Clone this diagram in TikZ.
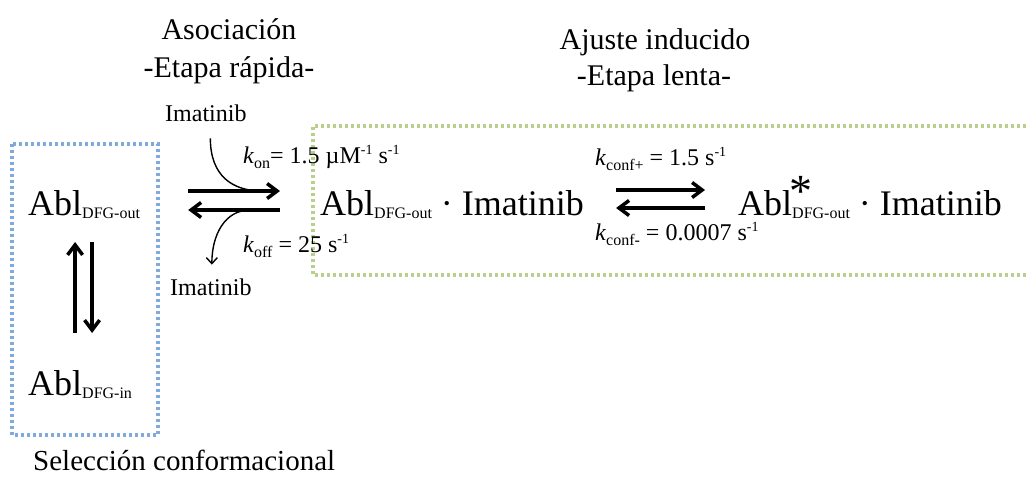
\documentclass[tikz,border=0pt]{standalone}
\usepackage{fontspec}
\setmainfont{Liberation Serif}
\usetikzlibrary{arrows.meta}
\definecolor{selblue}{RGB}{128,170,222}
\definecolor{ajgreen}{RGB}{185,207,140}
\newcommand{\dsub}[1]{\raisebox{-3pt}{\fontsize{16}{16}\selectfont #1}}
\newcommand{\ksub}[1]{\raisebox{-5pt}{\fontsize{16}{16}\selectfont #1}}
\newcommand{\ksup}[1]{\raisebox{9pt}{\fontsize{14}{14}\selectfont #1}}
\newcommand{\bigstar}{\rlap{\hspace*{-3pt}\raisebox{9pt}{\fontsize{46}{46}\selectfont *}}}

\begin{document}
\begin{tikzpicture}[
	x=1pt, y=-1pt,
	spec/.style={ anchor=base west, inner sep=0pt, font=\fontsize{36}{40}\selectfont },
	title/.style={ anchor=base, inner sep=0pt, font=\fontsize{30}{36}\selectfont },
	rate/.style={ anchor=base west, inner sep=0pt, font=\fontsize{24}{28}\selectfont },
	rxn/.style={ line width=3.5pt, -{Straight Barb[length=10pt,width=15pt]} },
	lig/.style={ line width=1.4pt, -{Straight Barb[length=6pt,width=11pt]} },
	frame/.style={ line width=3.2pt, dash pattern=on 3pt off 3pt }
]
\useasboundingbox (0,0) rectangle (1026,477);

% boxes
\draw[frame, selblue] (12,144) rectangle (158,435);
\draw[frame, ajgreen] (1026,126) -| (313,275) -- (1026,275);

% titles
\node at (229,39) (asoc) [title] {Asociación};
\node at (229,77) (rapida) [title] {-Etapa rápida-};
\node at (655,49) (ajuste) [title] {Ajuste inducido};
\node at (654,85) (lenta) [title] {-Etapa lenta-};
\node at (33,470) (selec) [title, anchor=base west, font=\fontsize{29}{34}\selectfont] {Selección conformacional};

% species
\node at (28,215) (ablout) [spec] {Abl\dsub{DFG-out}};
\node at (28,395) (ablin) [spec] {Abl\dsub{DFG-in}};
\node at (320,215) (cplx) [spec] {Abl\dsub{DFG-out} · Imatinib};
\node at (738,215) (cplxs) [spec] {Abl\bigstar\dsub{DFG-out} · Imatinib};
\node at (165,121) (imtop) [rate] {Imatinib};
\node at (170,295) (imbot) [rate] {Imatinib};

% rate constants
\node at (243,163) (kon) [rate] {\textit{k}\ksub{on}= 1.5 µM\ksup{-1} s\ksup{-1}};
\node at (243,252) (koff) [rate] {\textit{k}\ksub{off} = 25 s\ksup{-1}};
\node at (595,165) (kcp) [rate] {\textit{k}\ksub{conf+} = 1.5 s\ksup{-1}};
\node at (595,240) (kcm) [rate] {\textit{k}\ksub{conf-} = 0.0007 s\ksup{-1}};

% equilibria
\draw[rxn] ([xshift=48pt,yshift=24pt]ablout.base east) -- ([xshift=-40pt,yshift=24pt]cplx.base west);
\draw[rxn] ([xshift=-40pt,yshift=5pt]cplx.base west) -- ([xshift=48pt,yshift=5pt]ablout.base east);
\draw[rxn] ([xshift=32pt,yshift=25pt]cplx.base east) -- ([xshift=-33pt,yshift=25pt]cplxs.base west);
\draw[rxn] ([xshift=-33pt,yshift=7pt]cplxs.base west) -- ([xshift=32pt,yshift=7pt]cplx.base east);
\draw[rxn] ([xshift=-5pt,yshift=62pt]ablin.base) -- ([xshift=-9pt,yshift=-27pt]ablout.base);
\draw[rxn] ([xshift=8pt,yshift=-27pt]ablout.base) -- ([xshift=12pt,yshift=62pt]ablin.base);

% ligand in and out
\draw[lig, -] ([xshift=4.5pt,yshift=-17pt]imtop.south) .. controls +(0,37) and +(-30,0) .. ([xshift=-58pt,yshift=24pt]cplx.base west);
\draw[lig] ([xshift=-70pt,yshift=5pt]cplx.base west) .. controls +(-25,0) and +(0,-30) .. ([xshift=1pt,yshift=13.5pt]imbot.north);

\end{tikzpicture}
\end{document}
